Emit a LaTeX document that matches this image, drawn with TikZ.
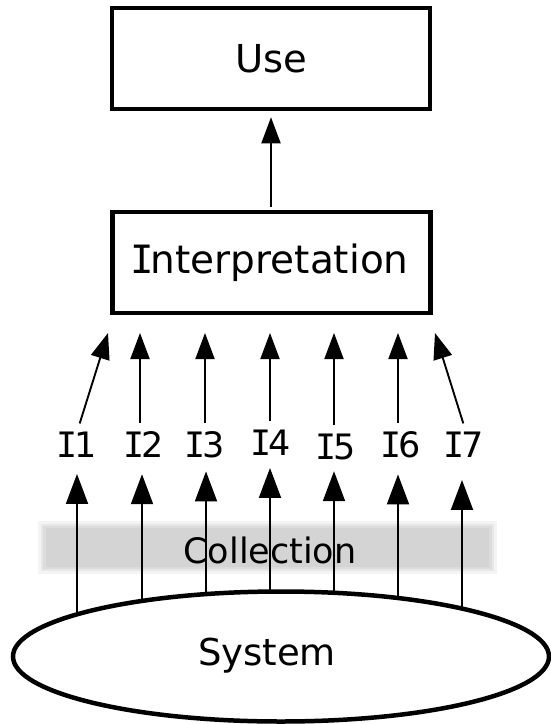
\documentclass[tikz,border=0pt]{standalone}
\usepackage{fontspec}
\setmainfont{DejaVu Sans}
\newfontfamily\monoI{DejaVu Sans Mono}
\newcommand\serifI{{\monoI\kern-0.09em I\kern-0.09em}}
\usetikzlibrary{arrows.meta,shapes.geometric}
\tikzset{
  box/.style={draw, line width=4.5pt, minimum width=318pt, minimum height=101pt, inner sep=0pt, fill=white},
  lbl/.style={inner sep=0pt, font=\fontsize{35}{42}\selectfont},
  uparr/.style={line width=1.9pt, -{Triangle[length=26pt,width=19pt]}},
  lowarr/.style={line width=1.9pt, -{Triangle[length=30pt,width=22pt]}},
  sysell/.style={draw, ellipse, line width=4.5pt, minimum width=536pt, minimum height=130pt, inner sep=0pt, fill=white}
}
\begin{document}
\begin{tikzpicture}[x=1pt,y=-1pt]
\useasboundingbox (0,0) rectangle (551,724);
% boxes
\node[box] (use) at (271,58.5) {\fontsize{38.5}{46}\selectfont Use};
\node[box] (interp) at (271.5,262.5) {\fontsize{39}{47}\selectfont \serifI nterpretation};
\draw[uparr, shorten <=3pt, shorten >=6pt] (interp.north -| use.south) -- (use.south);
% collection band (soft edges)
\fill[black!17, opacity=0.25] (38,521) rectangle (497,574);
\fill[black!17, opacity=0.4] (41,524) rectangle (494,571);
\fill[black!17, opacity=0.6] (43,526) rectangle (492,569);
\fill[black!17] (46,528) rectangle (489,567);
\node[inner sep=0pt] (coll) at (270,550) {\fontsize{35}{42}\selectfont Collection};
% labels
\node[lbl] (I1) at (78,445) {\serifI 1};
\node[lbl] (I2) at (145,445) {\serifI 2};
\node[lbl] (I3) at (206,445) {\serifI 3};
\node[lbl] (I4) at (272,443) {\serifI 4};
\node[lbl] (I5) at (337,447) {\serifI 5};
\node[lbl] (I6) at (402,445) {\serifI 6};
\node[lbl] (I7) at (465,445) {\serifI 7};
% tips on interpretation side
\coordinate (t1) at (108,333);
\coordinate (t2) at (140,333);
\coordinate (t3) at (205,333);
\coordinate (t4) at (270,333);
\coordinate (t5) at (334,333);
\coordinate (t6) at (398,333);
\coordinate (t7) at (435,333);
\draw[uparr, shorten <=9pt] ([xshift=-1pt]I1.north) -- (t1);
\draw[uparr, shorten <=9pt] ([xshift=-5pt]I2.north) -- (t2);
\draw[uparr, shorten <=9pt] ([xshift=-1pt]I3.north) -- (t3);
\draw[uparr, shorten <=9pt] ([xshift=-2pt]I4.north) -- (t4);
\draw[uparr, shorten <=9pt] ([xshift=-3pt]I5.north) -- (t5);
\draw[uparr, shorten <=9pt] ([xshift=-4pt]I6.north) -- (t6);
\draw[uparr, shorten <=9pt] ([xshift=1pt]I7.north) -- (t7);
% bottom coordinates inside system
\coordinate (b1) at (77,640);
\coordinate (b2) at (142,640);
\coordinate (b3) at (206,640);
\coordinate (b4) at (270,640);
\coordinate (b5) at (334,640);
\coordinate (b6) at (398,640);
\coordinate (b7) at (462,640);
\draw[lowarr, shorten >=16pt] (b1) -- ([xshift=-1pt]I1.south);
\draw[lowarr, shorten >=16pt] (b2) -- ([xshift=-3pt]I2.south);
\draw[lowarr, shorten >=13pt] (b3) -- (I3.south);
\draw[lowarr, shorten >=12pt] (b4) -- ([xshift=-2pt]I4.south);
\draw[lowarr, shorten >=11pt] (b5) -- ([xshift=-3pt]I5.south);
\draw[lowarr, shorten >=16pt] (b6) -- ([xshift=-4pt]I6.south);
\draw[lowarr, shorten >=22pt] (b7) -- ([xshift=-3pt]I7.south);
% system
\node[sysell] (sys) at (281,656.5) {};
\node[inner sep=0pt] (systext) at (267,656) {\fontsize{37}{44}\selectfont System};
\end{tikzpicture}
\end{document}
